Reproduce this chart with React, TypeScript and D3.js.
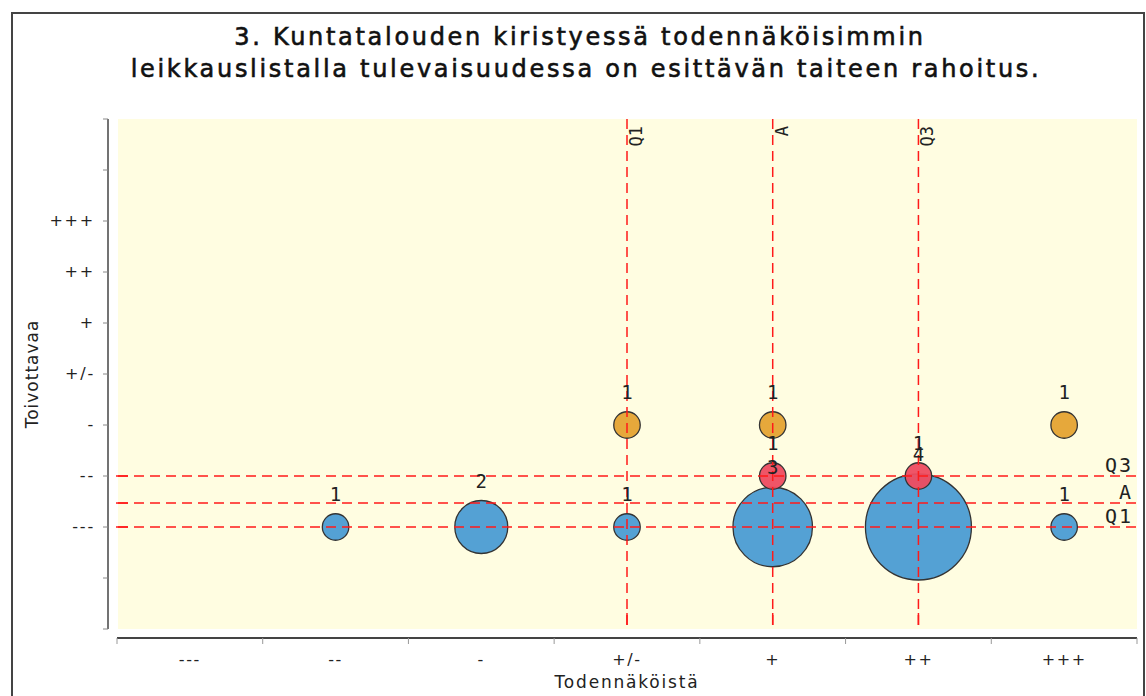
import React from "react";
import * as d3 from "d3";

const categories = ["---", "--", "-", "+/-", "+", "++", "+++"];

// Bubble series: x category, y category, count
const blueX = ["--", "-", "+/-", "+", "++", "+++"];
const blueY = ["---", "---", "---", "---", "---", "---"];
const blueCounts = [1, 2, 1, 3, 4, 1];

const redX = ["+", "++"];
const redY = ["--", "--"];
const redCounts = [1, 1];

const orangeX = ["+/-", "+", "+++"];
const orangeY = ["-", "-", "-"];
const orangeCounts = [1, 1, 1];

// Statistics lines (Q1, average, Q3)
const statNames = ["Q1", "A", "Q3"];
const statX = [4, 5.0, 6];
const statY = [1, 1.47, 2];

const title1 = "3. Kuntatalouden kiristyessä todennäköisimmin";
const title2 = "leikkauslistalla tulevaisuudessa on esittävän taiteen rahoitus.";
const xTitle = "Todennäköistä";
const yTitle = "Toivottavaa";

const W = 1146;
const H = 696;
const plot = { left: 118, right: 1137, top: 119, bottom: 629 };

export default function App() {
  const xLin = d3.scaleLinear().domain([0.5, 7.5]).range([117, 1137]);
  const xBand = d3.scaleBand<string>().domain(categories).range([117, 1137]);
  const yLin = d3.scaleLinear().domain([-1, 9]).range([629, 119]);
  const rScale = d3.scaleLinear().domain([0, 4]).range([0, 53]);
  const idx = (c: string) => categories.indexOf(c) + 1;

  const series = [
    { xs: blueX, ys: blueY, counts: blueCounts, fill: "#4b9cd3" },
    { xs: redX, ys: redY, counts: redCounts, fill: "#ee4c60" },
    { xs: orangeX, ys: orangeY, counts: orangeCounts, fill: "#e5a332" },
  ];

  const yTicks = d3.range(-1, 10);
  const xTickPos = categories.map((c) => xBand(c) as number).concat([1137]);
  const mono = "DejaVu Sans Mono, monospace";
  const sans = "DejaVu Sans, sans-serif";

  return (
    <svg
      width={W}
      height={H}
      style={{ position: "absolute", left: 0, top: 0, background: "#fff" }}
    >
      <rect x={12} y={13} width={1132} height={720} fill="#fff" stroke="#444" strokeWidth={2} />
      <text x={580} y={45} textAnchor="middle" fontFamily={sans} fontSize={24} letterSpacing={2.7} fill="#111" stroke="#111" strokeWidth={0.6}>
        {title1}
      </text>
      <text x={586} y={77} textAnchor="middle" fontFamily={sans} fontSize={24} letterSpacing={2.7} fill="#111" stroke="#111" strokeWidth={0.6}>
        {title2}
      </text>

      <rect
        x={plot.left}
        y={plot.top}
        width={plot.right - plot.left}
        height={plot.bottom - plot.top}
        fill="#fffde1"
      />

      {/* y axis */}
      <line x1={108} x2={108} y1={yLin(9)} y2={yLin(-1)} stroke="#444" strokeWidth={1.5} />
      {yTicks.map((t) => (
        <line key={"yt" + t} x1={103} x2={108} y1={yLin(t)} y2={yLin(t)} stroke="#888" strokeWidth={1} />
      ))}
      {categories.map((c, i) => (
        <text
          key={"yl" + c}
          x={95}
          y={yLin(i + 1) + 5}
          textAnchor="end"
          fontFamily={sans}
          fontSize={16}
          letterSpacing={1.8}
          fill="#222"
        >
          {c}
        </text>
      ))}

      {/* x axis */}
      <line x1={117} x2={1137} y1={638} y2={638} stroke="#444" strokeWidth={2} />
      {xTickPos.map((p, i) => (
        <line key={"xt" + i} x1={p} x2={p} y1={638} y2={644} stroke="#999" strokeWidth={1} />
      ))}
      {categories.map((c) => (
        <text
          key={"xl" + c}
          x={(xBand(c) as number) + xBand.bandwidth() / 2}
          y={665}
          textAnchor="middle"
          fontFamily={sans}
          fontSize={16}
          letterSpacing={1.6}
          fill="#222"
        >
          {c}
        </text>
      ))}

      <text x={627} y={688} textAnchor="middle" fontFamily={sans} fontSize={17} letterSpacing={1.8} fill="#222">
        {xTitle}
      </text>
      <text
        transform={`translate(38,${(plot.top + plot.bottom) / 2}) rotate(-90)`}
        textAnchor="middle"
        fontFamily={sans}
        fontSize={17}
        letterSpacing={1}
        fill="#222"
      >
        {yTitle}
      </text>

      {/* bubbles */}
      {series.map((s, si) =>
        s.xs.map((xc, i) => (
          <circle
            key={"b" + si + "-" + i}
            cx={xLin(idx(xc))}
            cy={yLin(idx(s.ys[i]))}
            r={rScale(s.counts[i])}
            fill={s.fill}
            fillOpacity={0.95}
            stroke="#333"
            strokeWidth={1.3}
          />
        ))
      )}

      {/* statistic lines */}
      {statNames.map((n, i) => (
        <g key={"sx" + n}>
          <line
            x1={xLin(statX[i])}
            x2={xLin(statX[i])}
            y1={plot.top}
            y2={plot.bottom}
            stroke="#ff1a1a"
            strokeWidth={1.5}
            strokeDasharray="10,6"
          />
          <line x1={xLin(statX[i])} x2={xLin(statX[i])} y1={613} y2={625} stroke="#ff1a1a" strokeWidth={1.5} />
          <text
            transform={`translate(${xLin(statX[i]) + 15},126) rotate(-90)`}
            textAnchor="end"
            fontFamily={mono}
            fontSize={17}
            fill="#222"
          >
            {n}
          </text>
        </g>
      ))}
      {statNames.map((n, i) => (
        <g key={"sy" + n}>
          <line
            x1={plot.left}
            x2={plot.right}
            y1={yLin(statY[i])}
            y2={yLin(statY[i])}
            stroke="#ff1a1a"
            strokeWidth={1.5}
            strokeDasharray="10,6"
          />
          <line x1={116} x2={128} y1={yLin(statY[i])} y2={yLin(statY[i])} stroke="#ff1a1a" strokeWidth={1.5} />
          <text
            x={1133}
            y={yLin(statY[i]) - 4}
            textAnchor="end"
            fontFamily={mono}
            fontSize={20}
            letterSpacing={2}
            fill="#222"
          >
            {n}
          </text>
        </g>
      ))}

      {/* count labels */}
      {series.map((s, si) =>
        s.xs.map((xc, i) => (
          <text
            key={"l" + si + "-" + i}
            x={xLin(idx(xc))}
            y={yLin(idx(s.ys[i])) - rScale(s.counts[i]) - 13}
            textAnchor="middle"
            fontFamily={mono}
            fontSize={19}
            fill="#222"
          >
            {s.counts[i]}
          </text>
        ))
      )}
    </svg>
  );
}
